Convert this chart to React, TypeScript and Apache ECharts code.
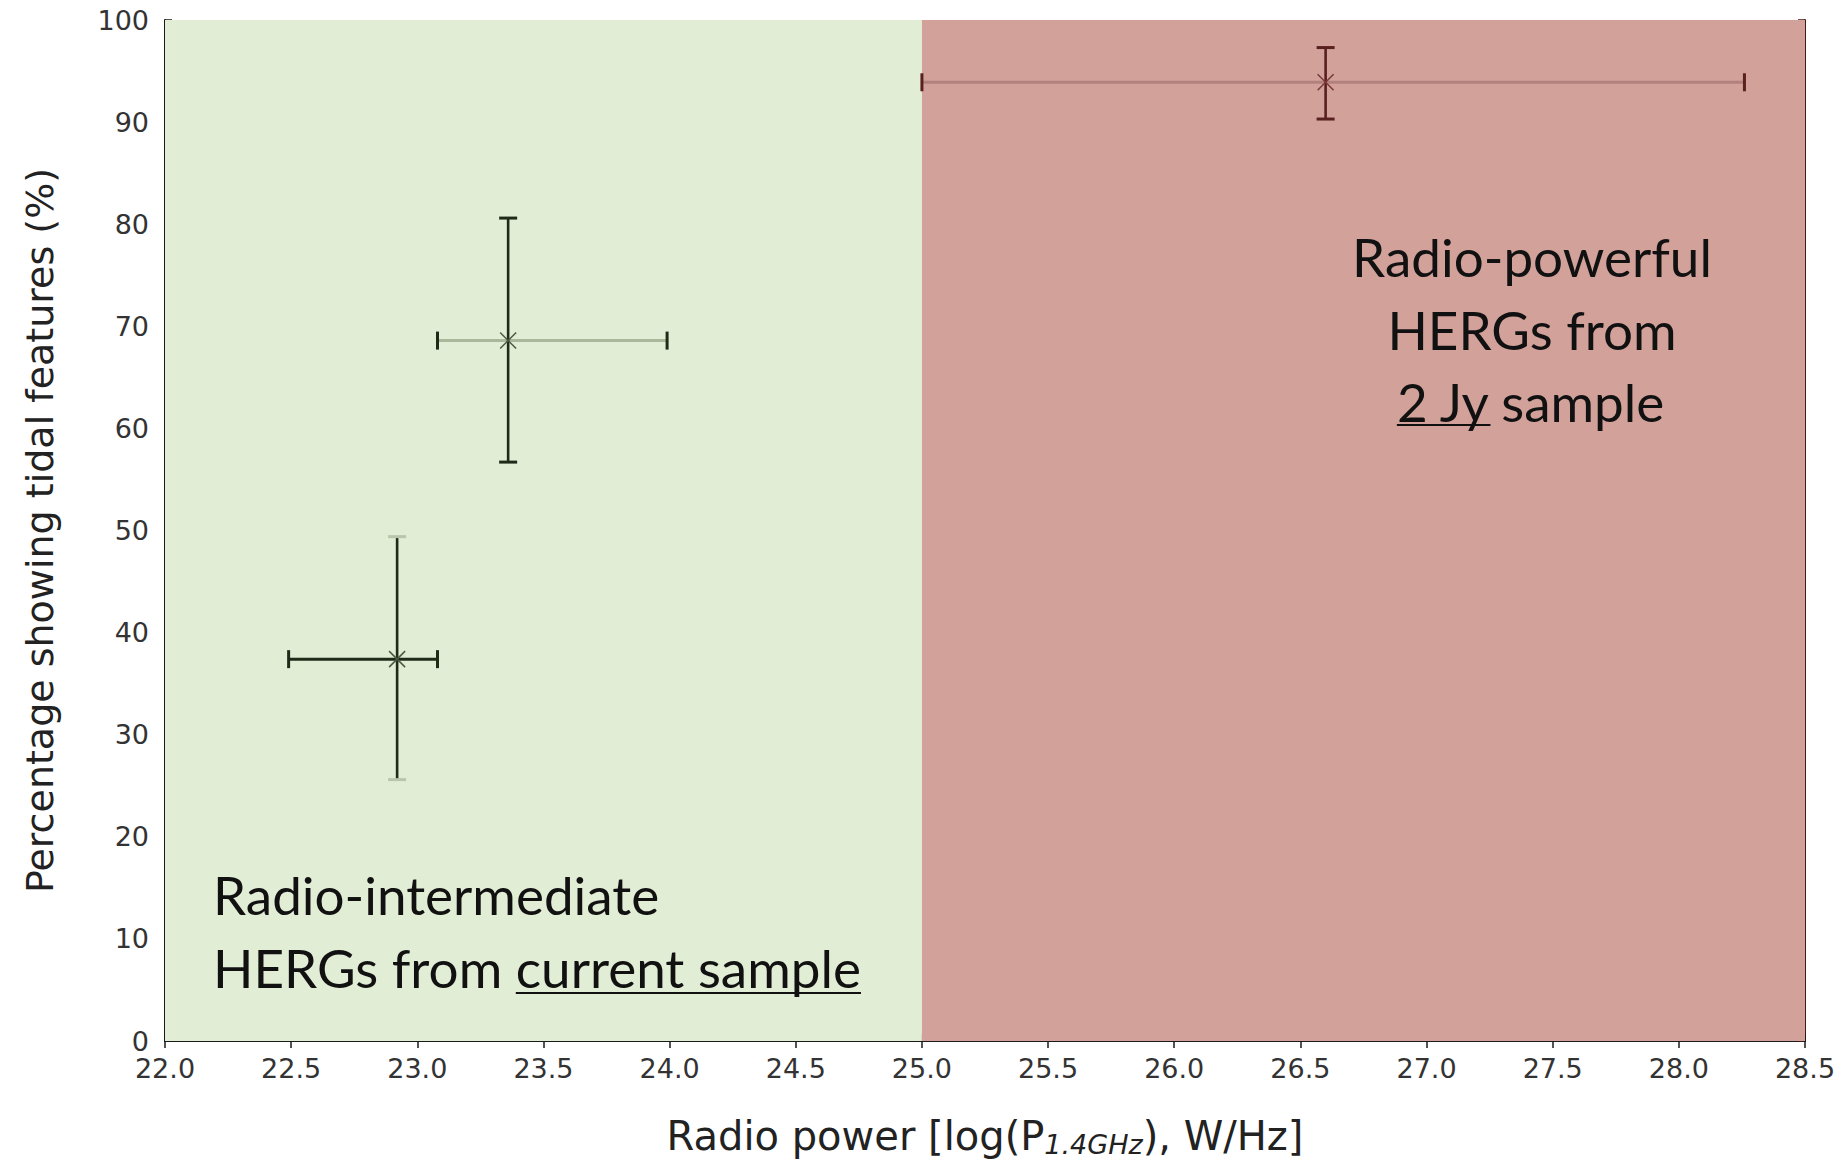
import React, { useEffect, useRef } from "react";
import * as echarts from "echarts";

// ---- data ----
const pointX = [22.92, 23.36, 26.6];
const pointY = [37.4, 68.6, 93.9];
const xLow = [22.49, 23.08, 25.0];
const xHigh = [23.08, 23.99, 28.26];
const yLow = [25.6, 56.7, 90.3];
const yHigh = [49.4, 80.6, 97.3];

const regionStart = [22.0, 25.0];
const regionEnd = [25.0, 28.5];

const xMin = 22.0;
const xMax = 28.5;
const xStep = 0.5;
const yMin = 0;
const yMax = 100;
const yStep = 10;

const leftLines = ["Radio-intermediate", "HERGs from ", "current sample"];
const rightLines = ["Radio-powerful", "HERGs from", "2 Jy", " sample"];

// ---- styles ----
const REGION_COLORS = ["#e1edd5", "#d1a19a"];
const BAR_STYLES = [
  { h: "#1f2a19", hCap: "#1f2a19", v: "#1f2a19", vCap: "#b9c6ac", m: "#4a5a40" },
  { h: "#a9b89b", hCap: "#1f2a19", v: "#1f2a19", vCap: "#1f2a19", m: "#4a5a40" },
  { h: "#b3817b", hCap: "#5a1f1f", v: "#5a1f1f", vCap: "#5a1f1f", m: "#7a3a3a" },
];

const ANNOT_FONT_SIZE = 53;
const ANNOT_FAMILY = "Lato, 'Open Sans', sans-serif";

function measure(text: string, size: number): number {
  const c = document.createElement("canvas");
  const ctx = c.getContext("2d")!;
  ctx.font = `${size}px ${ANNOT_FAMILY}`;
  return ctx.measureText(text).width;
}

export default function App() {
  const ref = useRef<HTMLDivElement>(null);

  useEffect(() => {
    if (!ref.current) return;
    const chart = echarts.init(ref.current, undefined, { renderer: "svg" });

    const data = pointX.map((x, i) => [x, pointY[i], xLow[i], xHigh[i], yLow[i], yHigh[i]]);

    const fs = ANNOT_FONT_SIZE;
    const textStyleBase = { fontSize: fs, fontFamily: ANNOT_FAMILY, fill: "#111" };

    // left annotation
    const lx = 213;
    const ly1 = 894;
    const ly2 = 967;
    const wPrefix = measure(leftLines[1], fs);
    const wCurrent = measure(leftLines[2], fs);

    // right annotation
    const rcx = 1532;
    const ry = [256, 329, 401];
    const w2Jy = measure(rightLines[2], fs);
    const wSample = measure(rightLines[3], fs);
    const r3Start = rcx - (w2Jy + wSample) / 2;

    const tickFont = { fontSize: 27, fontFamily: "DejaVu Sans", color: "#333" };

    const option: any = {
      animation: false,
      backgroundColor: "#ffffff",
      grid: { left: 165, right: 39, top: 20, bottom: 123, containLabel: false },
      xAxis: [
        {
          type: "value",
          min: xMin,
          max: xMax,
          interval: xStep,
          position: "bottom",
          axisLine: { lineStyle: { color: "#1a1a1a", width: 2 } },
          axisTick: { inside: true, length: 7, lineStyle: { color: "#1a1a1a", width: 1.5 } },
          axisLabel: {
            ...tickFont,
            formatter: (v: number) => v.toFixed(1),
            margin: 14,
          },
          splitLine: { show: false },
          name: "Radio power [log(P{sub|1.4GHz}), W/Hz]",
          nameLocation: "middle",
          nameGap: 72,
          nameTextStyle: {
            fontSize: 40,
            fontFamily: "DejaVu Sans",
            color: "#222",
            rich: {
              sub: {
                fontSize: 27,
                fontStyle: "italic",
                fontFamily: "DejaVu Sans",
                color: "#222",
                verticalAlign: "bottom",
                padding: [18, 0, 0, 0],
              },
            },
          },
        },
        {
          type: "value",
          min: xMin,
          max: xMax,
          interval: xStep,
          position: "top",
          axisLine: { lineStyle: { color: "#1a1a1a", width: 2 } },
          axisTick: { inside: true, length: 7, lineStyle: { color: "#1a1a1a", width: 1.5 } },
          axisLabel: { show: false },
          splitLine: { show: false },
        },
      ],
      yAxis: [
        {
          type: "value",
          min: yMin,
          max: yMax,
          interval: yStep,
          position: "left",
          axisLine: { lineStyle: { color: "#1a1a1a", width: 2 } },
          axisTick: { inside: true, length: 7, lineStyle: { color: "#1a1a1a", width: 1.5 } },
          axisLabel: { ...tickFont, margin: 16 },
          splitLine: { show: false },
          name: "Percentage showing tidal features (%)",
          nameLocation: "middle",
          nameGap: 106,
          nameTextStyle: { fontSize: 38, fontFamily: "DejaVu Sans", color: "#222" },
        },
        {
          type: "value",
          min: yMin,
          max: yMax,
          interval: yStep,
          position: "right",
          axisLine: { lineStyle: { color: "#4a1616", width: 2 } },
          axisTick: { inside: true, length: 7, lineStyle: { color: "#4a1616", width: 1.5 } },
          axisLabel: { show: false },
          splitLine: { show: false },
        },
      ],
      series: [
        {
          type: "line",
          data: [],
          silent: true,
          markArea: {
            silent: true,
            data: regionStart.map((s, i) => [
              { xAxis: s, itemStyle: { color: REGION_COLORS[i], opacity: 1 } },
              { xAxis: regionEnd[i] },
            ]),
          },
        },
        {
          type: "custom",
          data,
          z: 5,
          renderItem: (params: any, api: any) => {
            const i = params.dataIndex;
            const st = BAR_STYLES[i];
            const x = api.value(0);
            const y = api.value(1);
            const c = api.coord([x, y]);
            const l = api.coord([api.value(2), y]);
            const r = api.coord([api.value(3), y]);
            const b = api.coord([x, api.value(4)]);
            const t = api.coord([x, api.value(5)]);
            const cap = 9;
            const m = 8;
            const line = (x1: number, y1: number, x2: number, y2: number, stroke: string, w: number) => ({
              type: "line",
              shape: { x1, y1, x2, y2 },
              style: { stroke, lineWidth: w },
            });
            return {
              type: "group",
              children: [
                line(l[0], l[1], r[0], r[1], st.h, 3),
                line(l[0], l[1] - cap, l[0], l[1] + cap, st.hCap, 3),
                line(r[0], r[1] - cap, r[0], r[1] + cap, st.hCap, 3),
                line(b[0], b[1], t[0], t[1], st.v, 2.6),
                line(t[0] - cap, t[1], t[0] + cap, t[1], st.vCap, 3),
                line(b[0] - cap, b[1], b[0] + cap, b[1], st.vCap, 3),
                line(c[0] - m, c[1] - m, c[0] + m, c[1] + m, st.m, 1.5),
                line(c[0] - m, c[1] + m, c[0] + m, c[1] - m, st.m, 1.5),
              ],
            };
          },
        },
      ],
      graphic: [
        {
          type: "text",
          x: lx,
          y: ly1,
          z: 10,
          style: { ...textStyleBase, text: leftLines[0], align: "left", verticalAlign: "middle" },
        },
        {
          type: "text",
          x: lx,
          y: ly2,
          z: 10,
          style: { ...textStyleBase, text: leftLines[1] + leftLines[2], align: "left", verticalAlign: "middle" },
        },
        {
          type: "line",
          z: 10,
          shape: { x1: lx + wPrefix, y1: ly2 + 26, x2: lx + wPrefix + wCurrent, y2: ly2 + 26 },
          style: { stroke: "#111", lineWidth: 2 },
        },
        {
          type: "text",
          x: rcx,
          y: ry[0],
          z: 10,
          style: { ...textStyleBase, text: rightLines[0], align: "center", verticalAlign: "middle" },
        },
        {
          type: "text",
          x: rcx,
          y: ry[1],
          z: 10,
          style: { ...textStyleBase, text: rightLines[1], align: "center", verticalAlign: "middle" },
        },
        {
          type: "text",
          x: r3Start,
          y: ry[2],
          z: 10,
          style: { ...textStyleBase, text: rightLines[2] + rightLines[3], align: "left", verticalAlign: "middle" },
        },
        {
          type: "line",
          z: 10,
          shape: { x1: r3Start, y1: ry[2] + 24, x2: r3Start + w2Jy, y2: ry[2] + 24 },
          style: { stroke: "#111", lineWidth: 2 },
        },
      ],
    };

    chart.setOption(option);
    return () => chart.dispose();
  }, []);

  return (
    <div
      ref={ref}
      style={{ position: "fixed", left: 0, top: 0, width: 1844, height: 1164, background: "#fff" }}
    />
  );
}
